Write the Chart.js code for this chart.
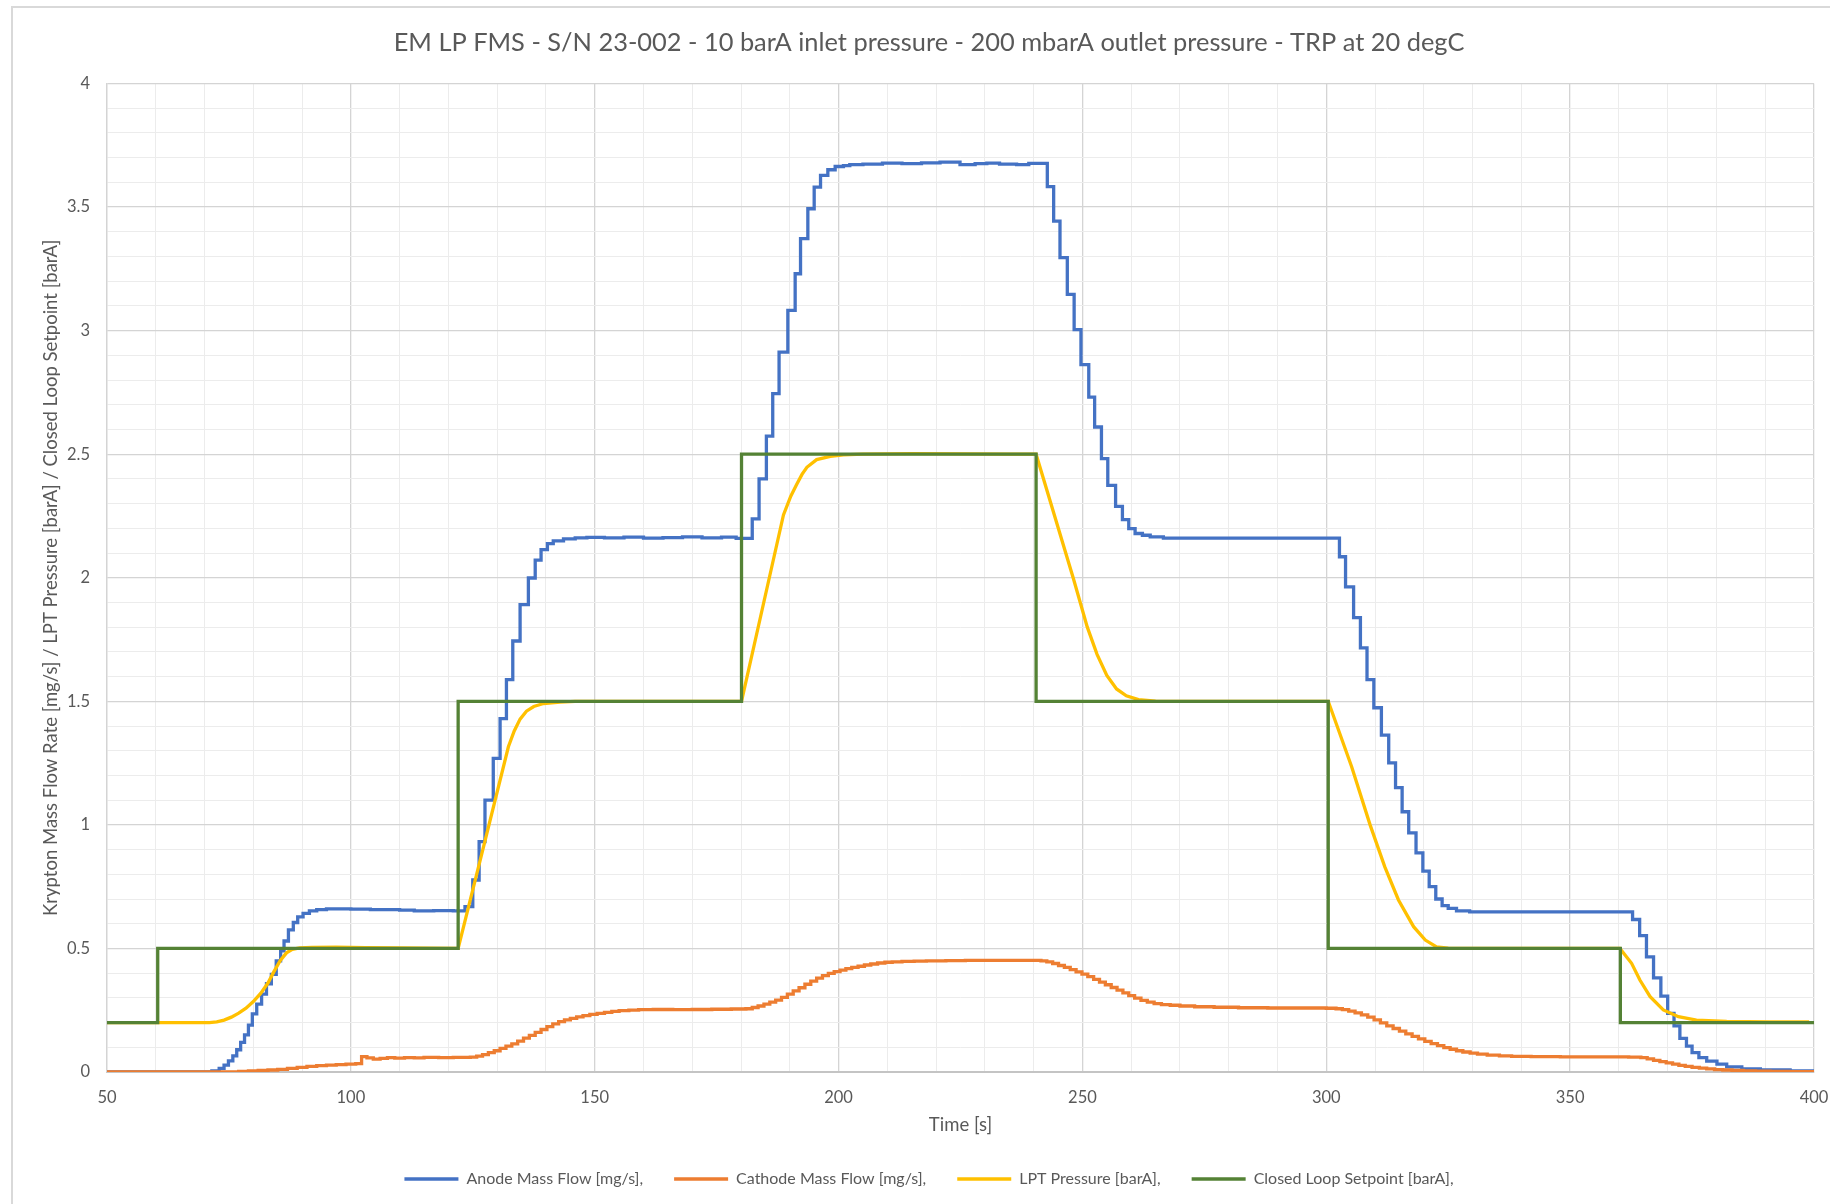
<!DOCTYPE html>
<html>
<head>
<meta charset="utf-8">
<title>EM LP FMS - S/N 23-002</title>
<script src="https://cdn.jsdelivr.net/npm/chart.js@4.4.1/dist/chart.umd.min.js"></script>
<style>
  html, body { margin: 0; padding: 0; background: #ffffff; }
  canvas { display: block; }
</style>
</head>
<body>
<canvas id="chart" width="1830" height="1204"></canvas>
<script>
// ---- Text ----
const chartTitle = 'EM LP FMS - S/N 23-002 - 10 barA inlet pressure - 200 mbarA outlet pressure - TRP at 20 degC';
const xAxisTitle = 'Time [s]';
const yAxisTitle = 'Krypton Mass Flow Rate [mg/s] / LPT Pressure [barA] / Closed Loop Setpoint [barA]';
const seriesNames = [
  'Anode Mass Flow [mg/s],',
  'Cathode Mass Flow [mg/s],',
  'LPT Pressure [barA],',
  'Closed Loop Setpoint [barA],'
];

// ---- Anode mass flow [mg/s]: sample-and-hold readings (time each level starts) ----
const anodeTime = [
  50, 71.5, 73.0, 74.0, 74.9, 75.8, 76.6, 77.4, 78.2, 79.0, 79.8, 80.7, 81.7, 82.7, 83.7, 84.7,
  85.6, 86.3, 87.2, 88.2, 89.1, 90.2, 91.5, 93.0, 95.0, 100.0, 104.0, 110.0, 113.0, 117.0, 121.0,
  123.4, 125.0, 126.3, 127.5, 129.2, 130.6, 131.9, 133.2, 134.7, 136.4, 137.8, 139.0, 140.3, 141.5,
  143.6, 146.0, 148.4, 152.0, 156.0, 160.0, 164.0, 168.0, 172.0, 176.0, 179.0,
  182.3, 183.7, 185.2, 186.5, 187.8, 189.6, 191.1, 192.2, 193.7, 195.0, 196.3, 197.8, 199.3, 201.0,
  202.3, 205.0, 209.0, 213.0, 217.0, 220.8, 224.9, 228.0, 230.4, 233.0, 236.5, 239.0,
  242.8, 244.1, 245.4, 246.9, 248.3, 249.7, 251.3, 252.5, 253.9, 255.2, 256.8, 258.2, 259.5, 260.8,
  262.3, 263.9, 266.6, 280.0, 295.0,
  302.7, 303.95, 305.6, 307.0, 308.35, 309.75, 311.3, 312.8, 314.2, 315.55, 316.9, 318.4, 319.8,
  321.1, 322.45, 323.75, 325.0, 326.7, 329.4, 345.0,
  362.8, 364.25, 365.65, 367.1, 368.6, 370.0, 371.3, 372.5, 373.85, 375.0, 376.4, 378.0, 380.1,
  382.1, 385.2, 389.0, 395.1, 400
];
const anodeFlow = [
  0, 0.004, 0.015, 0.028, 0.045, 0.065, 0.09, 0.12, 0.15, 0.19, 0.235, 0.275, 0.315, 0.357, 0.395, 0.45,
  0.49, 0.53, 0.575, 0.605, 0.628, 0.642, 0.652, 0.657, 0.66, 0.659, 0.657, 0.655, 0.652, 0.653, 0.652,
  0.669, 0.777, 0.932, 1.1, 1.269, 1.43, 1.588, 1.744, 1.891, 1.999, 2.071, 2.114, 2.138, 2.149,
  2.157, 2.161, 2.163, 2.161, 2.164, 2.16, 2.162, 2.165, 2.161, 2.164, 2.159,
  2.238, 2.4, 2.573, 2.745, 2.913, 3.082, 3.23, 3.372, 3.493, 3.581, 3.628, 3.651, 3.664, 3.668,
  3.672, 3.674, 3.678, 3.676, 3.679, 3.682, 3.672, 3.676, 3.678, 3.674, 3.672, 3.677,
  3.583, 3.443, 3.295, 3.147, 3.004, 2.862, 2.731, 2.61, 2.482, 2.374, 2.289, 2.235, 2.199, 2.179,
  2.172, 2.165, 2.16, 2.16, 2.16,
  2.085, 1.963, 1.839, 1.716, 1.588, 1.474, 1.363, 1.251, 1.151, 1.053, 0.968, 0.887, 0.813,
  0.75, 0.7, 0.673, 0.662, 0.652, 0.648, 0.648,
  0.617, 0.552, 0.466, 0.381, 0.307, 0.237, 0.187, 0.136, 0.105, 0.078, 0.058, 0.044, 0.032,
  0.021, 0.013, 0.008, 0.004, 0.004
];

// ---- Cathode mass flow [mg/s] ----
const cathodeTime = [
  50, 77, 79, 81, 83, 85, 87, 89, 91, 93, 95, 97, 99, 101, 102.2, 103.3, 104.6, 106, 107.5, 109,
  111, 113, 115, 118, 121, 124.5, 125.8, 127, 128.2, 129.4, 130.6, 131.8, 133.0, 134.2, 135.4,
  136.6, 137.8, 139.0, 140.2, 141.4, 142.6, 143.8, 145.0, 146.3, 147.6, 149.0, 150.5, 152.0, 153.5,
  155.0, 157.0, 159.0, 162, 166, 170, 174, 178, 181.0, 182.3, 183.5, 184.7, 185.9, 187.1, 188.3,
  189.5, 190.7, 191.9, 193.1, 194.3, 195.5, 196.7, 197.9, 199.1, 200.3, 201.5, 202.7, 204.0, 205.3,
  206.6, 208.0, 209.5, 211, 213, 215.5, 218, 222, 226, 232, 238, 241.5, 242.7, 243.9, 245.1, 246.3,
  247.5, 248.7, 249.9, 251.1, 252.3, 253.5, 254.7, 255.9, 257.1, 258.3, 259.5, 260.7, 262.0, 263.3,
  264.7, 266.2, 268, 270, 273, 277, 282, 288, 295, 300, 302, 303.3, 304.6, 305.9, 307.2, 308.5,
  309.8, 311.1, 312.4, 313.7, 315.0, 316.3, 317.6, 318.9, 320.2, 321.5, 322.8, 324.1, 325.4, 326.7,
  328.0, 329.5, 331, 333, 335.5, 338, 342, 348, 355, 362, 364.5, 365.8, 367.1, 368.4, 369.7, 371.0,
  372.3, 373.6, 375.0, 376.5, 378.0, 379.6, 381.3, 383.2, 385.5, 388, 391, 395, 400
];
const cathodeFlow = [
  0, 0.002, 0.004, 0.006, 0.008, 0.011, 0.015, 0.019, 0.023, 0.026, 0.028, 0.03, 0.032, 0.034, 0.062, 0.057, 0.052, 0.055, 0.058, 0.056,
  0.058, 0.057, 0.059, 0.058, 0.059, 0.06, 0.064, 0.07, 0.078, 0.086, 0.096, 0.105, 0.114, 0.125, 0.137,
  0.148, 0.16, 0.172, 0.184, 0.195, 0.204, 0.211, 0.217, 0.223, 0.228, 0.233, 0.237, 0.241, 0.245,
  0.248, 0.25, 0.252, 0.253, 0.252, 0.253, 0.254, 0.255, 0.256, 0.261, 0.267, 0.275, 0.283, 0.291, 0.302,
  0.315, 0.328, 0.341, 0.355, 0.368, 0.38, 0.39, 0.399, 0.406, 0.412, 0.418, 0.423, 0.428, 0.433,
  0.437, 0.441, 0.444, 0.446, 0.448, 0.449, 0.45, 0.451, 0.452, 0.452, 0.452, 0.45, 0.446, 0.439, 0.431, 0.423,
  0.414, 0.405, 0.396, 0.386, 0.375, 0.364, 0.353, 0.342, 0.331, 0.32, 0.309, 0.299, 0.29, 0.283,
  0.277, 0.273, 0.27, 0.267, 0.264, 0.262, 0.26, 0.259, 0.259, 0.258, 0.256, 0.252, 0.246, 0.239, 0.231, 0.222,
  0.211, 0.199, 0.187, 0.176, 0.165, 0.154, 0.144, 0.134, 0.124, 0.115, 0.107, 0.099, 0.092, 0.086,
  0.081, 0.076, 0.072, 0.068, 0.065, 0.063, 0.062, 0.061, 0.061, 0.06, 0.058, 0.053, 0.047, 0.042, 0.037, 0.032,
  0.027, 0.023, 0.019, 0.016, 0.013, 0.01, 0.008, 0.006, 0.004, 0.003, 0.002, 0.001, 0.001
];

// ---- LPT pressure [barA] ----
const lptTime = [
  50, 71, 72.5, 74, 75.5, 77, 78.5, 80, 81.5, 83, 84.2, 85.5, 86.8, 88, 89.5, 92, 97, 103, 110, 116,
  122, 127.2, 132.3, 133.5, 134.7, 136, 137.5, 139.5, 142.9, 146,
  180.1, 185.8, 188.7, 190.2, 191.4, 192.5, 193.5, 195.5, 198.3, 201, 205, 215, 225, 235,
  240.5, 248.1, 251, 253, 255, 257, 259, 261.5, 265, 270,
  300.4, 305.2, 309.0, 312.0, 314.8, 317.9, 320.3, 322.6, 325, 328,
  360.2, 362.6, 364.3, 366.4, 369.1, 372.2, 375.9, 382.1, 391, 399
];
const lptPressure = [
  0.2, 0.2, 0.203, 0.21, 0.222, 0.238, 0.258, 0.285, 0.318, 0.36, 0.405, 0.45, 0.482, 0.496, 0.502, 0.504, 0.505, 0.503, 0.502, 0.501,
  0.5, 0.911, 1.316, 1.38, 1.428, 1.46, 1.479, 1.491, 1.497, 1.5,
  1.5, 2.0, 2.254, 2.33, 2.377, 2.418, 2.447, 2.478, 2.491, 2.497, 2.5, 2.502, 2.501, 2.5,
  2.5, 2.0, 1.8, 1.69, 1.605, 1.55, 1.522, 1.507, 1.501, 1.5,
  1.5, 1.235, 0.999, 0.83, 0.696, 0.588, 0.534, 0.506, 0.501, 0.5,
  0.5, 0.44, 0.372, 0.305, 0.251, 0.224, 0.21, 0.205, 0.203, 0.203
];

// ---- Closed loop setpoint [barA] (time each setpoint starts) ----
const setpointTime = [50, 60.4, 122, 180.1, 240.5, 300.4, 360.3, 400];
const setpointPressure = [0.2, 0.5, 1.5, 2.5, 1.5, 0.5, 0.2, 0.2];

// ---- Axis ranges ----
const xMin = 50, xMax = 400, xMajor = 50, xMinor = 10;
const yMin = 0, yMax = 4, yMajor = 0.5, yMinor = 0.1;

// ---- Styling ----
const textColor = '#595959';
const fontFamily = 'Lato, "Open Sans", sans-serif';
const majorGrid = '#d4d4d4';
const minorGrid = '#ececec';

const toPoints = (xs, ys) => xs.map((x, i) => ({ x: x, y: ys[i] }));
const isMultiple = (v, step) => Math.abs(v / step - Math.round(v / step)) < 1e-6;

const lineBase = { borderWidth: 3.3, pointRadius: 0, pointHoverRadius: 0, tension: 0, fill: false };

// Light frame around the chart
const chartFrame = {
  id: 'chartFrame',
  beforeDraw(chart) {
    const c = chart.ctx;
    c.save();
    c.fillStyle = '#ffffff';
    c.fillRect(0, 0, chart.width, chart.height);
    c.strokeStyle = '#d9d9d9';
    c.lineWidth = 2;
    c.beginPath();
    c.moveTo(12, chart.height);
    c.lineTo(12, 7);
    c.lineTo(chart.width, 7);
    c.stroke();
    c.restore();
  }
};

new Chart(document.getElementById('chart'), {
  type: 'line',
  data: {
    datasets: [
      Object.assign({}, lineBase, {
        label: seriesNames[0], data: toPoints(anodeTime, anodeFlow),
        borderColor: '#4472C4', backgroundColor: '#4472C4', stepped: true, order: 4
      }),
      Object.assign({}, lineBase, {
        label: seriesNames[1], data: toPoints(cathodeTime, cathodeFlow),
        borderColor: '#ED7D31', backgroundColor: '#ED7D31', stepped: true, order: 3
      }),
      Object.assign({}, lineBase, {
        label: seriesNames[2], data: toPoints(lptTime, lptPressure),
        borderColor: '#FFC000', backgroundColor: '#FFC000', order: 2
      }),
      Object.assign({}, lineBase, {
        label: seriesNames[3], data: toPoints(setpointTime, setpointPressure),
        borderColor: '#548235', backgroundColor: '#548235', stepped: true, order: 1
      })
    ]
  },
  options: {
    responsive: false,
    animation: false,
    events: [],
    layout: { padding: { left: 28, right: 0, top: 10, bottom: 7 } },
    plugins: {
      title: {
        display: true, text: chartTitle, color: textColor,
        font: { family: fontFamily, size: 25.4, weight: 'normal' },
        padding: { top: 18, bottom: 25 }
      },
      legend: {
        position: 'bottom',
        labels: {
          usePointStyle: true, pointStyle: 'line', pointStyleWidth: 54,
          color: textColor, font: { family: fontFamily, size: 16 },
          padding: 31,
          sort: (a, b) => a.datasetIndex - b.datasetIndex
        }
      },
      tooltip: { enabled: false }
    },
    scales: {
      x: {
        type: 'linear', min: xMin, max: xMax,
        afterFit(scale) { scale.height = 68; scale.paddingRight = 16; },
        ticks: {
          stepSize: xMinor, autoSkip: false, maxRotation: 0, padding: 16,
          color: textColor, font: { family: fontFamily, size: 16.5 },
          callback: (v) => (isMultiple(v, xMajor) ? String(Math.round(v)) : '')
        },
        grid: {
          drawTicks: false,
          color: (ctx) => (ctx.tick && isMultiple(ctx.tick.value, xMajor) ? majorGrid : minorGrid),
          lineWidth: (ctx) => (ctx.tick && isMultiple(ctx.tick.value, xMajor) ? 1.3 : 1)
        },
        border: { color: '#c4c4c4', width: 2 },
        title: {
          display: true, text: xAxisTitle, color: textColor,
          font: { family: fontFamily, size: 18.5 }, padding: { top: 4, bottom: 4 }
        }
      },
      y: {
        type: 'linear', min: yMin, max: yMax,
        afterFit(scale) { scale.width = 79; },
        ticks: {
          stepSize: yMinor, autoSkip: false, padding: 17,
          color: textColor, font: { family: fontFamily, size: 16.5 },
          callback: (v) => (isMultiple(v, yMajor) ? String(Math.round(v * 10) / 10) : '')
        },
        grid: {
          drawTicks: false,
          color: (ctx) => (ctx.tick && isMultiple(ctx.tick.value, yMajor) ? majorGrid : minorGrid),
          lineWidth: (ctx) => (ctx.tick && isMultiple(ctx.tick.value, yMajor) ? 1.3 : 1)
        },
        border: { color: majorGrid, width: 1.3 },
        title: {
          display: true, text: yAxisTitle, color: textColor,
          font: { family: fontFamily, size: 18.5 }, padding: { top: 12, bottom: 0 }
        }
      }
    }
  },
  plugins: [chartFrame]
});
</script>
</body>
</html>
